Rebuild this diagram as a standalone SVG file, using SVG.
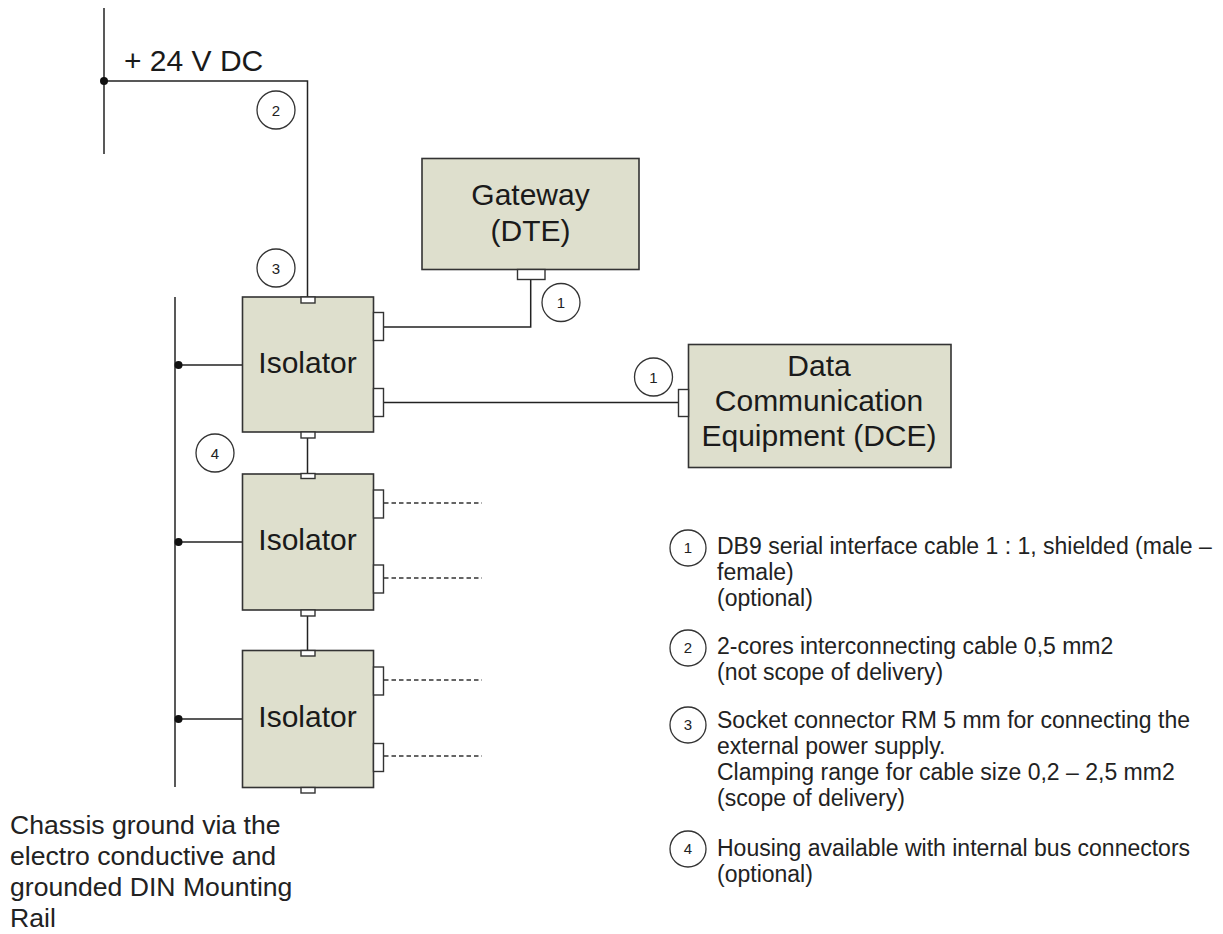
<svg xmlns="http://www.w3.org/2000/svg" width="1223" height="934" viewBox="0 0 1223 934">
<style>
.ln{stroke:#222;stroke-width:1.5;fill:none}
.dash{stroke:#333;stroke-width:1.3;fill:none;stroke-dasharray:4.5 3}
.box{fill:#dedfcd;stroke:#333;stroke-width:1.6}
.con{fill:#fff;stroke:#333;stroke-width:1.4}
.dot{fill:#111}
.cir{fill:#fff;stroke:#333;stroke-width:1.3}
.big{font-family:"Liberation Sans",Arial,sans-serif;font-size:30px;fill:#1a1a1a;text-anchor:middle}
.lbl{font-family:"Liberation Sans",Arial,sans-serif;font-size:30px;fill:#1a1a1a}
.num{font-family:"Liberation Sans",Arial,sans-serif;font-size:15px;fill:#222;text-anchor:middle}
.leg{font-family:"Liberation Sans",Arial,sans-serif;font-size:23px;fill:#222}
.chs{font-family:"Liberation Sans",Arial,sans-serif;font-size:26.6px;fill:#222}
</style>
<rect width="1223" height="934" fill="#fff"/>
<g id="connectors">
<line class="ln" x1="104" y1="8" x2="104" y2="154"/>
<polyline class="ln" points="104,81 307.5,81 307.5,297"/>
<circle class="dot" cx="104" cy="81" r="4"/>
<line class="ln" x1="175" y1="297" x2="175" y2="787"/>
<line class="ln" x1="178" y1="365" x2="242" y2="365"/>
<line class="ln" x1="178" y1="542" x2="242" y2="542"/>
<line class="ln" x1="178" y1="719" x2="242" y2="719"/>
<circle class="dot" cx="178.5" cy="365" r="4"/>
<circle class="dot" cx="178.5" cy="542" r="4"/>
<circle class="dot" cx="178.5" cy="719" r="4"/>
<polyline class="ln" points="384,327 530.7,327 530.7,279"/>
<line class="ln" x1="384" y1="402.5" x2="678" y2="402.5"/>
<line class="ln" x1="307.5" y1="438" x2="307.5" y2="474"/>
<line class="ln" x1="307.5" y1="616" x2="307.5" y2="650"/>
<line class="dash" x1="384" y1="503" x2="482" y2="503"/>
<line class="dash" x1="384" y1="578" x2="482" y2="578"/>
<line class="dash" x1="384" y1="680" x2="482" y2="680"/>
<line class="dash" x1="384" y1="756" x2="482" y2="756"/>
</g>
<g id="supply">
<text class="lbl" x="124" y="71">+ 24 V DC</text>
</g>
<g id="gateway">
<rect class="box" x="422" y="158.5" width="217" height="111"/>
<rect class="con" x="517.5" y="269.5" width="27.5" height="10"/>
<text class="big" x="530.5" y="205">Gateway</text>
<text class="big" x="530.5" y="241">(DTE)</text>
</g>
<g id="dce">
<rect class="box" x="688.5" y="344.5" width="262.5" height="123"/>
<rect class="con" x="678.5" y="389.5" width="10" height="27"/>
<text class="big" x="819" y="376">Data</text>
<text class="big" x="819" y="411">Communication</text>
<text class="big" x="819" y="446">Equipment (DCE)</text>
</g>
<g id="isolator1">
<rect class="box" x="242.5" y="297" width="131" height="135"/>
<rect class="con" x="301" y="297" width="14" height="6"/>
<rect class="con" x="301" y="432" width="14" height="6"/>
<rect class="con" x="373.5" y="312.5" width="10" height="28"/>
<rect class="con" x="373.5" y="388.5" width="10" height="28"/>
<text class="big" x="307.5" y="373">Isolator</text>
</g>
<g id="isolator2">
<rect class="box" x="242.5" y="474" width="131" height="136"/>
<rect class="con" x="301" y="473.5" width="14" height="5"/>
<rect class="con" x="301" y="610" width="14" height="6"/>
<rect class="con" x="373.5" y="490" width="10" height="28"/>
<rect class="con" x="373.5" y="565" width="10" height="28"/>
<text class="big" x="307.5" y="550">Isolator</text>
</g>
<g id="isolator3">
<rect class="box" x="242.5" y="650.5" width="131" height="137"/>
<rect class="con" x="301" y="650.5" width="14" height="5.5"/>
<rect class="con" x="301" y="787.5" width="14" height="5.5"/>
<rect class="con" x="373.5" y="667" width="10" height="28"/>
<rect class="con" x="373.5" y="743.5" width="10" height="28"/>
<text class="big" x="307.5" y="727">Isolator</text>
</g>
<g id="callouts">
<circle class="cir" cx="276" cy="110" r="19"/><text class="num" x="276" y="115.5">2</text>
<circle class="cir" cx="276" cy="268" r="19"/><text class="num" x="276" y="273.5">3</text>
<circle class="cir" cx="561" cy="302.5" r="19"/><text class="num" x="561" y="308">1</text>
<circle class="cir" cx="653.5" cy="377" r="19"/><text class="num" x="653.5" y="382.5">1</text>
<circle class="cir" cx="215" cy="453" r="19"/><text class="num" x="215" y="458.5">4</text>
</g>
<g id="legend">
<circle class="cir" cx="688" cy="548" r="18"/><text class="num" x="688" y="553">1</text>
<text class="leg" x="717" y="554">DB9 serial interface cable 1 : 1, shielded (male –</text>
<text class="leg" x="717" y="580">female)</text>
<text class="leg" x="717" y="606">(optional)</text>
<circle class="cir" cx="688" cy="648" r="18"/><text class="num" x="688" y="653">2</text>
<text class="leg" x="717" y="654">2-cores interconnecting cable 0,5 mm2</text>
<text class="leg" x="717" y="680">(not scope of delivery)</text>
<circle class="cir" cx="688" cy="725" r="18"/><text class="num" x="688" y="730">3</text>
<text class="leg" x="717" y="728">Socket connector RM 5 mm for connecting the</text>
<text class="leg" x="717" y="754">external power supply.</text>
<text class="leg" x="717" y="780">Clamping range for cable size 0,2 – 2,5 mm2</text>
<text class="leg" x="717" y="806">(scope of delivery)</text>
<circle class="cir" cx="688" cy="849" r="18"/><text class="num" x="688" y="854">4</text>
<text class="leg" x="717" y="856">Housing available with internal bus connectors</text>
<text class="leg" x="717" y="882">(optional)</text>
</g>
<g id="chassis-note">
<text class="chs" x="10" y="834">Chassis ground via the</text>
<text class="chs" x="10" y="865">electro conductive and</text>
<text class="chs" x="10" y="896">grounded DIN Mounting</text>
<text class="chs" x="10" y="927">Rail</text>
</g>
</svg>
